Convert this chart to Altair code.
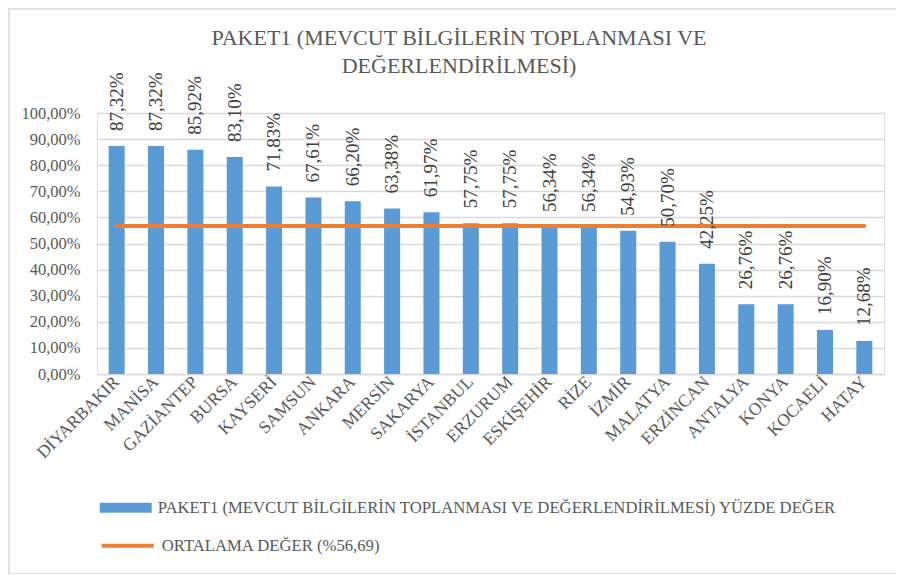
import altair as alt
import pandas as pd

cities = ["DİYARBAKIR", "MANİSA", "GAZİANTEP", "BURSA", "KAYSERİ", "SAMSUN", "ANKARA",
          "MERSİN", "SAKARYA", "İSTANBUL", "ERZURUM", "ESKİŞEHİR", "RİZE", "İZMİR",
          "MALATYA", "ERZİNCAN", "ANTALYA", "KONYA", "KOCAELİ", "HATAY"]
values = [87.32, 87.32, 85.92, 83.10, 71.83, 67.61, 66.20, 63.38, 61.97, 57.75,
          57.75, 56.34, 56.34, 54.93, 50.70, 42.25, 26.76, 26.76, 16.90, 12.68]
average = 56.69
y_ticks = [0, 10, 20, 30, 40, 50, 60, 70, 80, 90, 100]

title_lines = ["PAKET1 (MEVCUT BİLGİLERİN TOPLANMASI VE", "DEĞERLENDİRİLMESİ)"]
bar_name = "PAKET1 (MEVCUT BİLGİLERİN TOPLANMASI VE DEĞERLENDİRİLMESİ) YÜZDE DEĞER"
line_name = "ORTALAMA DEĞER (%56,69)"

BLUE = "#5B9BD5"
ORANGE = "#ED7D31"
GREY = "#595959"
FONT = "Liberation Serif"

df = pd.DataFrame({
    "city": cities,
    "value": values,
    "label": [f"{v:.2f}".replace(".", ",") + "%" for v in values],
    "series": bar_name,
})
avg_df = pd.DataFrame({"city": cities, "avg": [average] * len(cities), "series2": line_name})

x_axis = alt.Axis(labelAngle=-45, labelAlign="right", labelBaseline="middle",
                  labelPadding=5, ticks=False, domainColor="#D9D9D9",
                  domainWidth=1.5, labelFont=FONT, labelFontSize=17.5,
                  labelColor=GREY, labelLimit=200, labelOverlap=False)
x_scale = alt.Scale(paddingInner=0.593, paddingOuter=0.2966)
y_axis = alt.Axis(values=y_ticks, domain=False, ticks=False, gridColor="#D9D9D9",
                  gridWidth=1.5, labelPadding=17, labelFont=FONT, labelFontSize=16.5,
                  labelColor=GREY, labelOverlap=False,
                  labelExpr="replace(format(datum.value, '.2f'), '.', ',') + '%'")
y_scale = alt.Scale(domain=[0, 100])


def xe():
    return alt.X("city:N", sort=cities, title=None, scale=x_scale, axis=x_axis)


def ye(field):
    return alt.Y(field, scale=y_scale, title=None, axis=y_axis)


legend_common = dict(orient="none", legendX=2.7, title=None, symbolSize=2704,
                     labelFont=FONT, labelFontSize=16.7, labelColor=GREY, labelOffset=6,
                     labelLimit=900, padding=0)

bars = alt.Chart(df).mark_bar().encode(
    x=xe(),
    y=ye("value:Q"),
    color=alt.Color("series:N", scale=alt.Scale(domain=[bar_name], range=[BLUE]),
                    legend=alt.Legend(legendY=368.7, symbolType="M-1,-0.192H1V0.192H-1Z",
                                      symbolStrokeWidth=0, **legend_common)),
)

labels = alt.Chart(df).mark_text(angle=270, align="left", baseline="middle", dx=15,
                                 font=FONT, fontSize=19, color="#404040").encode(
    x=xe(),
    y=ye("value:Q"),
    text="label:N",
)

line = alt.Chart(avg_df).mark_line(strokeWidth=4, strokeCap="round").encode(
    x=xe(),
    y=ye("avg:Q"),
    stroke=alt.Stroke("series2:N", scale=alt.Scale(domain=[line_name], range=[ORANGE]),
                      legend=alt.Legend(legendY=404.7, symbolType="stroke",
                                        symbolStrokeWidth=4, **legend_common)),
)

title = alt.Chart(alt.Data(values=[{}])).mark_text(
    font=FONT, fontSize=22, color=GREY, lineHeight=28, align="center",
    baseline="middle").encode(
    x=alt.value(362), y=alt.value(-75.3), text=alt.value(title_lines))

border = alt.Chart(alt.Data(values=[{}])).mark_rect(
    fill="transparent", stroke="#D9D9D9", strokeWidth=1.5).encode(
    x=alt.value(-88), x2=alt.value(808), y=alt.value(-104), y2=alt.value(461))

chart = alt.layer(border, bars, line, labels, title).properties(
    width=787, height=261,
    autosize=alt.AutoSizeParams(type="none"),
    padding={"left": 89, "top": 105, "right": 12, "bottom": 200},
).configure_view(stroke=None).configure(background="white")

chart.save("out.html", embed_options={"renderer": "svg", "actions": False})
